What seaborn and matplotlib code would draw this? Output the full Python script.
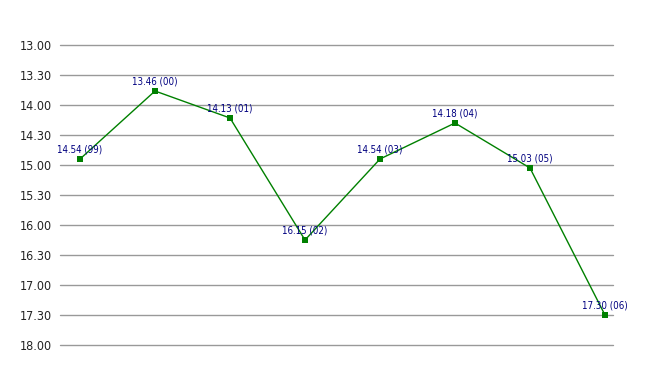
import matplotlib
matplotlib.use("Agg")
import matplotlib.pyplot as plt
import seaborn as sns
import pandas as pd

times = ["14.54", "13.46", "14.13", "16.15", "14.54", "14.18", "15.03", "17.30"]
years = ["99", "00", "01", "02", "03", "04", "05", "06"]
ytick_labels = ["13.00", "13.30", "14.00", "14.30", "15.00", "15.30",
                "16.00", "16.30", "17.00", "17.30", "18.00"]

def to_minutes(s):
    m, sec = s.split(".")
    return int(m) + int(sec) / 60.0

df = pd.DataFrame({
    "idx": list(range(len(times))),
    "val": [to_minutes(t) for t in times],
    "label": [f"{t} ({y})" for t, y in zip(times, years)],
})

sns.set_style("white")
plt.rcParams["font.family"] = ["DejaVu Sans"]
plt.rcParams["font.stretch"] = "condensed"

fig = plt.figure(figsize=(6.53, 3.75), dpi=100)
ax = fig.add_axes([60/653, 30/375, (613-60)/653, 300/375])

sns.lineplot(data=df, x="idx", y="val", ax=ax, color="#008000", linewidth=1,
             marker="s", markersize=5, markeredgewidth=0, markerfacecolor="#008000",
             zorder=3)

for _, r in df.iterrows():
    ax.annotate(r["label"], (r["idx"], r["val"]), xytext=(0, 3.5),
                textcoords="offset points", ha="center", va="bottom",
                fontsize=7, color="#000080", annotation_clip=False, zorder=4,
                fontstretch="condensed")

ytick_vals = [to_minutes(t) for t in ytick_labels]
ax.set_yticks(ytick_vals)
ax.set_yticklabels(ytick_labels, fontsize=9, color="#222222", fontstretch="condensed")
ax.set_ylim(18.0, 13.0)
ax.set_xlim(-0.267, 7.107)
ax.set_xticks([])
ax.set_xlabel("")
ax.set_ylabel("")
ax.grid(axis="y", color="#999999", linewidth=1)
for gl in ax.get_ygridlines():
    gl.set_clip_on(False)
ax.set_axisbelow(True)
for s in ax.spines.values():
    s.set_visible(False)
ax.tick_params(axis="y", length=0, pad=6)

fig.savefig("out.png", dpi=100)
